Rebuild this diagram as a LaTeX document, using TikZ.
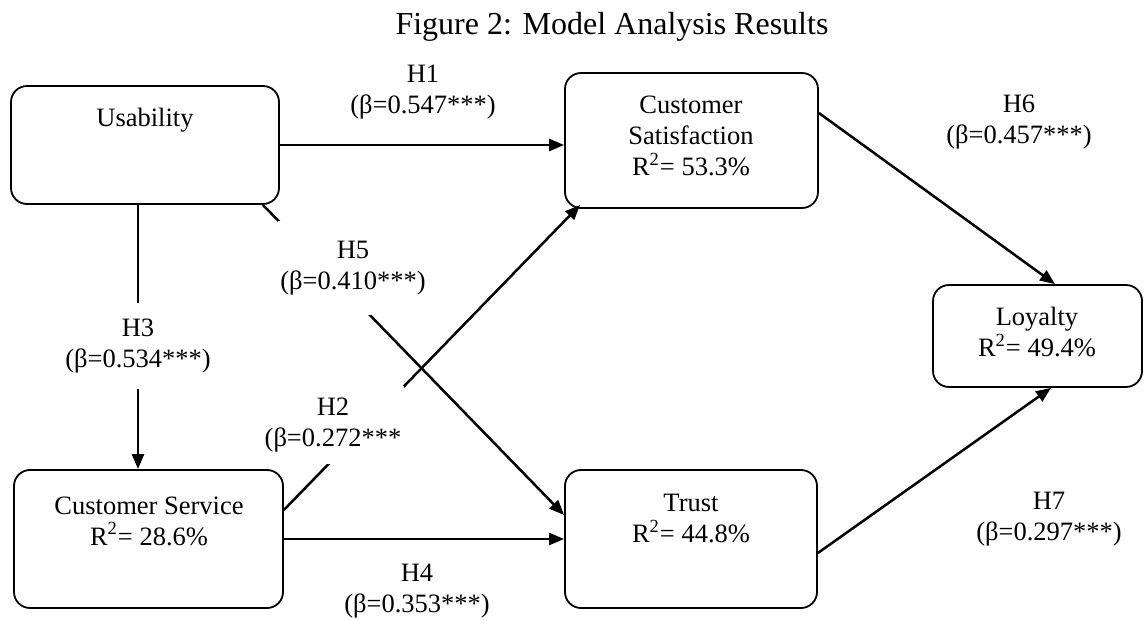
\documentclass[tikz,border=0pt]{standalone}
\usepackage{fontspec}
\setmainfont{Liberation Serif}
\usetikzlibrary{arrows.meta,positioning}

\begin{document}
\begin{tikzpicture}[x=0.5pt, y=-0.5pt,
    cbox/.style={draw, line width=0.9pt, rounded corners=8pt},
    btext/.style={align=center, font=\fontsize{13.25}{15.5}\selectfont, inner sep=0pt},
    hyp/.style={align=center, font=\fontsize{13.25}{15.5}\selectfont, fill=white, inner sep=1pt},
    arr/.style={-{Triangle[length=7.5pt,width=6pt]}, line width=1.25pt}
  ]
    \useasboundingbox (0,0) rectangle (1148,620);

    \node[font=\fontsize{16}{19}\selectfont, anchor=base] (title) at (612,35) {Figure 2: Model Analysis Results};

    \node[cbox, minimum width=134pt, minimum height=59pt]   (usab)  at (145,145)    {};
    \node[cbox, minimum width=126.5pt, minimum height=67.5pt] (satis) at (691.5,140.5) {};
    \node[cbox, minimum width=104.5pt, minimum height=51pt] (loyal) at (1037.5,336) {};
    \node[cbox, minimum width=134.5pt, minimum height=69pt] (serv)  at (148.5,539)  {};
    \node[cbox, minimum width=126pt, minimum height=69pt]   (trust) at (691,539)    {};

    \node[btext] (usabtxt)  at (145,120)  {Usability};
    \node[btext] (satistxt) at (691,136)  {Customer\\Satisfaction\\R\textsuperscript{2}= 53.3\%};
    \node[btext] (loyaltxt) at (1037,332) {Loyalty\\R\textsuperscript{2}= 49.4\%};
    \node[btext] (servtxt)  at (149,521)  {Customer Service\\R\textsuperscript{2}= 28.6\%};
    \node[btext] (trusttxt) at (691,519)  {Trust\\R\textsuperscript{2}= 44.8\%};

    \draw[arr] (usab.east) -- (usab.east -| satis.west);
    \draw[arr] ([xshift=-3.5pt]usab.south) -- ([xshift=-3.5pt]usab.south |- serv.north);
    \draw[arr] ([xshift=-8.5pt]usab.south east) -- ([yshift=12pt]trust.west);
    \draw[arr] ([yshift=14.5pt]serv.east) -- ([xshift=8pt,yshift=2pt]satis.south west);
    \draw[arr] (serv.east) -- (trust.west);
    \draw[arr] ([yshift=13.75pt]satis.east) -- ([xshift=8.75pt]loyal.north);
    \draw[arr] ([yshift=-7pt]trust.east) -- ([xshift=6.75pt]loyal.south);

    % path coefficients
    \node[hyp] (h1) at (423,92)    {H1\\(β=0.547***)};
    \node[hyp, minimum width=75pt, minimum height=47pt] (h5) at (353,268) {H5\\(β=0.410***)};
    \node[hyp, minimum height=43pt] (h3) at (138,346) {H3\\(β=0.534***)};
    \node[hyp, minimum width=71pt, minimum height=39pt] (h2) at (333,425) {H2\\(β=0.272***};
    \node[hyp] (h4) at (417,591)   {H4\\(β=0.353***)};
    \node[hyp] (h6) at (1019,122)  {H6\\(β=0.457***)};
    \node[hyp] (h7) at (1049,519)  {H7\\(β=0.297***)};
\end{tikzpicture}
\end{document}
